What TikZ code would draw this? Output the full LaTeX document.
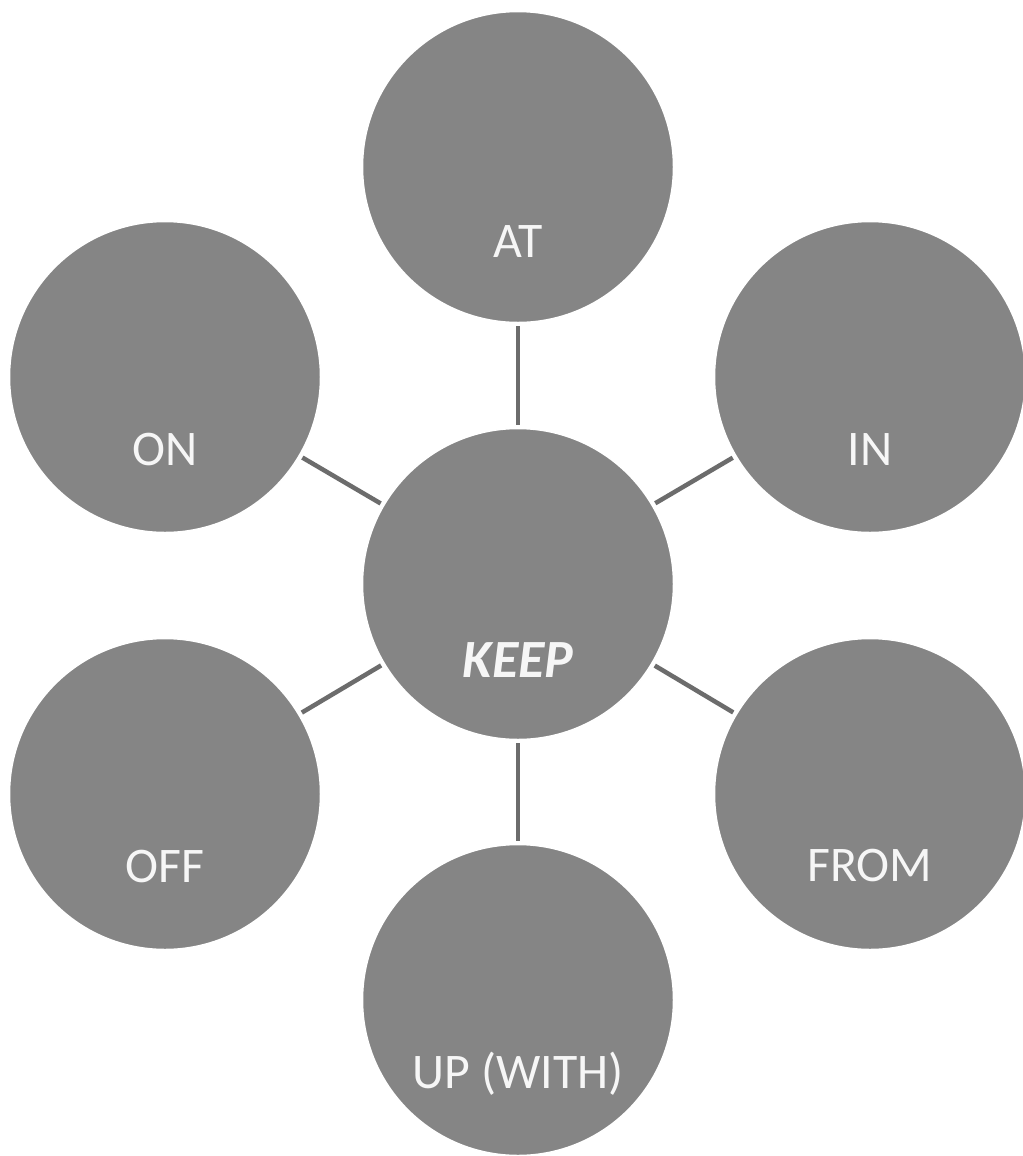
\documentclass[tikz,border=0pt]{standalone}
\usepackage{fontspec}
\setmainfont{Carlito}
\usetikzlibrary{calc}
\definecolor{discfill}{RGB}{133,133,133}
\definecolor{linkgray}{RGB}{108,108,108}
\definecolor{labelwhite}{RGB}{246,246,246}
\begin{document}
\begin{tikzpicture}[x=1bp,y=-1bp,
  disc/.style={circle, fill=discfill, draw=white, line width=1.5bp,
    minimum size=311bp, inner sep=0pt},
  lbl/.style={anchor=base, text=labelwhite, inner sep=0pt,
    font=\fontsize{50}{60}\selectfont},
  link/.style={draw=linkgray, line width=4.5bp, shorten <=3bp, shorten >=3bp}]
  \fill[white] (0,0) rectangle (1023,1156);
  \useasboundingbox (0,0) rectangle (1023,1156);

  % hub and its six satellites
  \node[disc] (keep) at (518,584) {};
  \node[disc] (at)   at (518,167) {};
  \node[disc] (on)   at (165,377) {};
  \node[disc] (in)   at (870,377) {};
  \node[disc] (off)  at (165,794) {};
  \node[disc] (from) at (870,794) {};
  \node[disc] (up)   at (518,1000) {};

  % spokes
  \draw[link] (keep) -- (at);
  \draw[link] (keep) -- (on);
  \draw[link] (keep) -- (in);
  \draw[link] (keep) -- (off);
  \draw[link] (keep) -- (from);
  \draw[link] (keep) -- (up);

  % labels, set in the lower part of each disc
  \node[lbl, font=\fontsize{54}{64}\selectfont\bfseries\itshape] (tkeep) at ($(keep)+(0,93)$) {KEEP};
  \node[lbl] (tat)   at ($(at)+(0,90)$) {AT};
  \node[lbl] (ton)   at ($(on)+(0,88)$) {ON};
  \node[lbl] (tin)   at ($(in)+(0,88)$) {IN};
  \node[lbl] (toff)  at ($(off)+(0,88)$) {OFF};
  \node[lbl] (tfrom) at ($(from)+(0,87)$) {FROM};
  \node[lbl] (tup)   at ($(up)+(0,88)$) {UP (WITH)};
\end{tikzpicture}
\end{document}
